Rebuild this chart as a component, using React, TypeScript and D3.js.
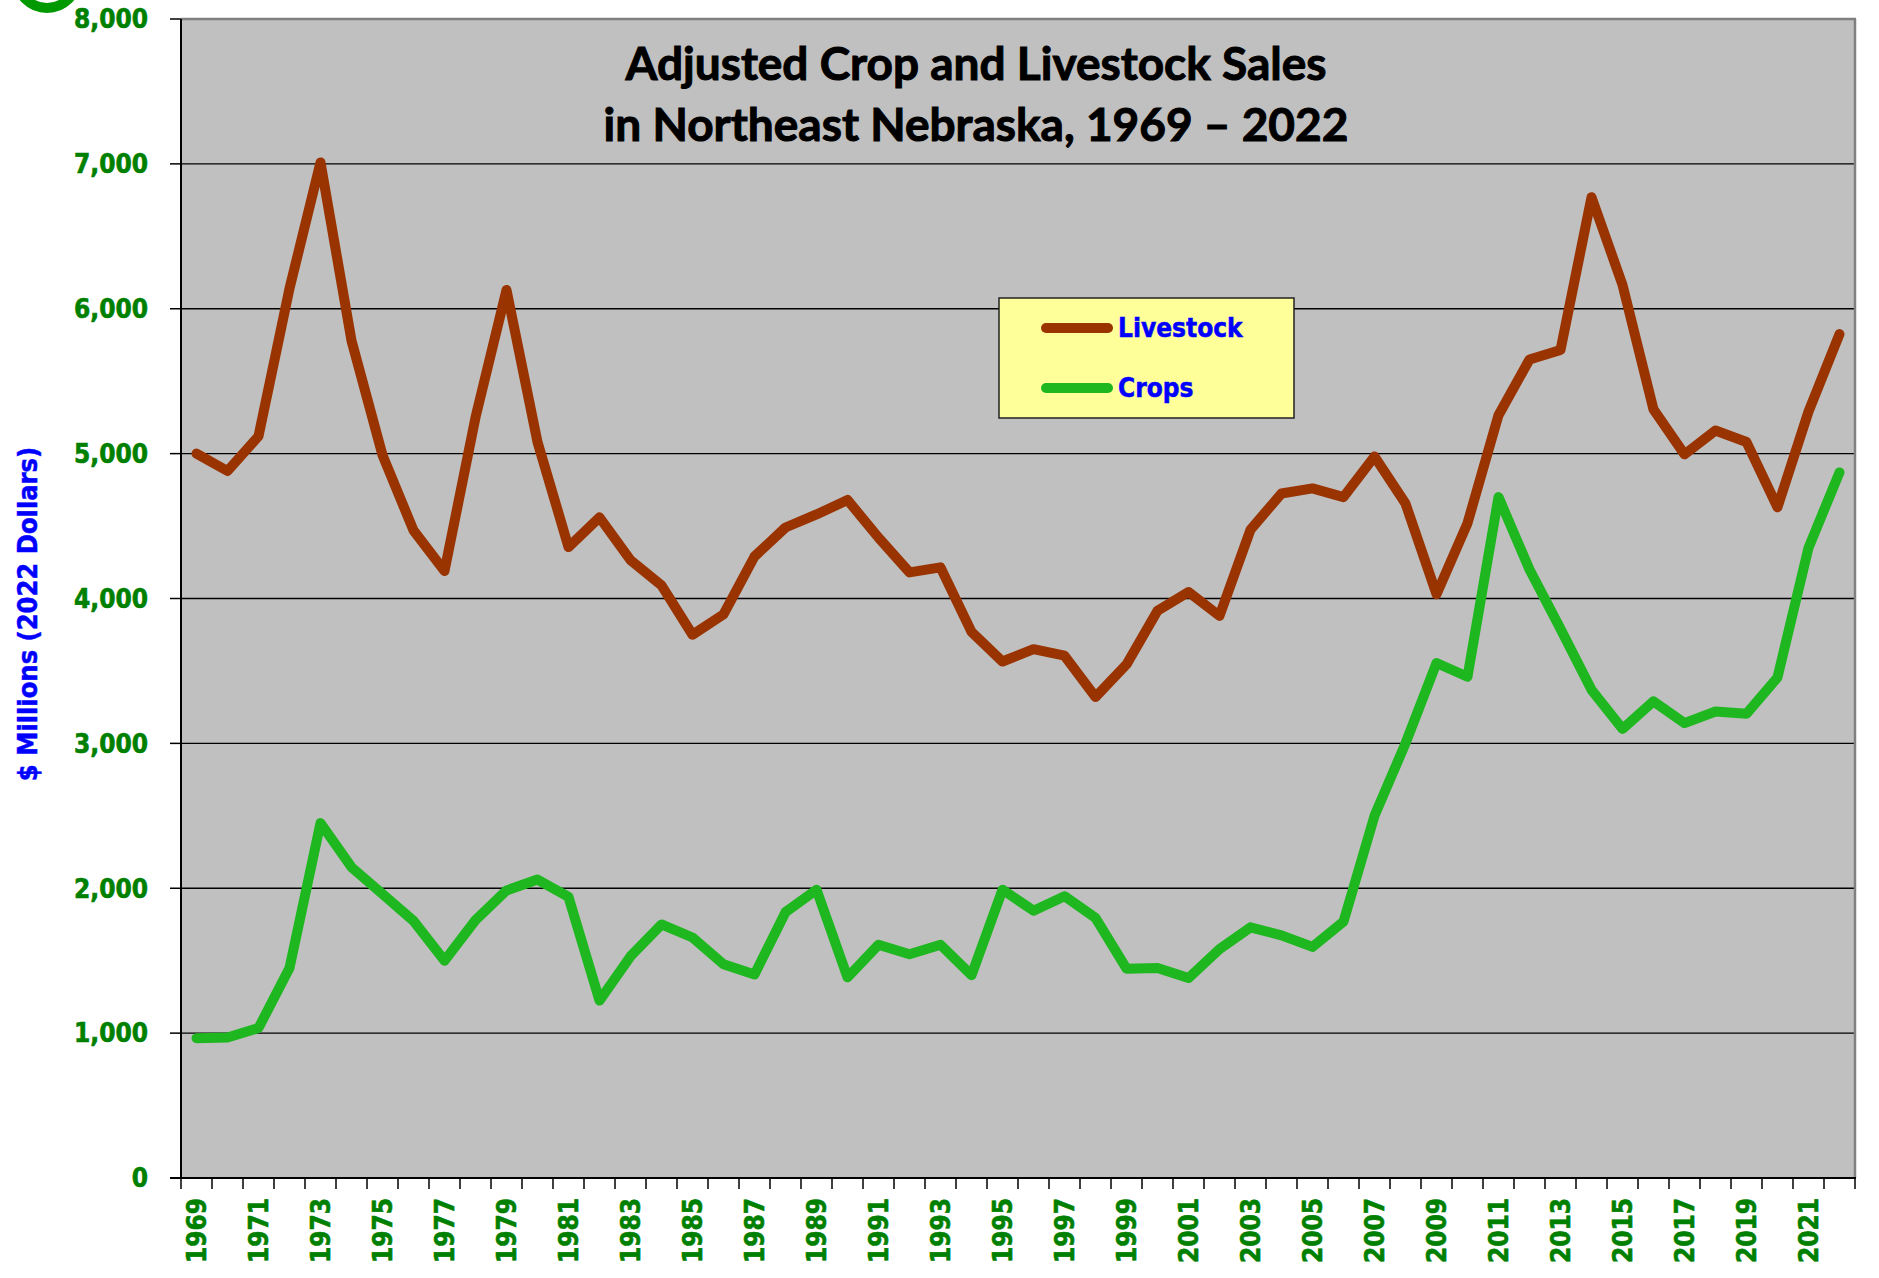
import React from "react";
import * as d3 from "d3";

const years = [
  1969, 1970, 1971, 1972, 1973, 1974, 1975, 1976, 1977, 1978,
  1979, 1980, 1981, 1982, 1983, 1984, 1985, 1986, 1987, 1988,
  1989, 1990, 1991, 1992, 1993, 1994, 1995, 1996, 1997, 1998,
  1999, 2000, 2001, 2002, 2003, 2004, 2005, 2006, 2007, 2008,
  2009, 2010, 2011, 2012, 2013, 2014, 2015, 2016, 2017, 2018,
  2019, 2020, 2021, 2022,
];

const livestock = [
  5000, 4880, 5120, 6140, 7010, 5780, 4990, 4470, 4190, 5250,
  6130, 5080, 4355, 4560, 4265, 4090, 3750, 3890, 4290, 4490,
  4580, 4680, 4420, 4180, 4215, 3770, 3565, 3650, 3605, 3320,
  3545, 3915, 4045, 3880, 4475, 4725, 4760, 4700, 4980, 4655,
  4030, 4520, 5265, 5650, 5715, 6770, 6165, 5305, 4995, 5160,
  5080, 4630, 5290, 5825,
];

const crops = [
  965, 970, 1035, 1450, 2450, 2145, 1960, 1775, 1500, 1780,
  1985, 2060, 1940, 1225, 1530, 1750, 1660, 1475, 1405, 1835,
  1990, 1385, 1610, 1545, 1610, 1400, 1990, 1845, 1945, 1795,
  1445, 1450, 1380, 1580, 1730, 1675, 1595, 1770, 2500, 3000,
  3555, 3460, 4700, 4200, 3790, 3370, 3100, 3290, 3140, 3220,
  3205, 3455, 4350, 4870,
];

const yTicks = [0, 1000, 2000, 3000, 4000, 5000, 6000, 7000, 8000];
const xLabelYears = [
  1969, 1971, 1973, 1975, 1977, 1979, 1981, 1983, 1985, 1987, 1989,
  1991, 1993, 1995, 1997, 1999, 2001, 2003, 2005, 2007, 2009, 2011,
  2013, 2015, 2017, 2019, 2021,
];

const titleLines = [
  "Adjusted Crop and Livestock Sales",
  "in Northeast Nebraska, 1969 \u2013 2022",
];
const yAxisTitle = "$ Millions (2022 Dollars)";
const seriesNames = ["Livestock", "Crops"];

const W = 1879;
const H = 1278;
const left = 181;
const right = 1855;
const top = 19;
const bottom = 1178;

const LIVESTOCK_COLOR = "#993300";
const CROPS_COLOR = "#1FB71F";
const AXIS_FONT = "'DejaVu Sans Condensed', 'DejaVu Sans', sans-serif";

export default function App() {
  const x = d3
    .scaleBand<number>()
    .domain(years)
    .range([left, right])
    .padding(0);
  const y = d3.scaleLinear().domain([0, 8000]).range([bottom, top]);
  const cx = (yr: number) => (x(yr) as number) + x.bandwidth() / 2;

  const line = d3
    .line<number>()
    .x((_, i) => cx(years[i]))
    .y((d) => y(d));

  const fmt = d3.format(",");

  const boundaries = years.map((yr) => x(yr) as number).concat([right]);

  const legendX = 999;
  const legendY = 298;
  const legendW = 295;
  const legendH = 120;

  const heavy = { paintOrder: "stroke" as const };

  return (
    <div style={{ position: "absolute", left: 0, top: 0 }}>
      <svg width={W} height={H} style={{ display: "block" }}>
        <rect x={0} y={0} width={W} height={H} fill="#ffffff" />
        {/* plot background */}
        <rect x={left} y={top} width={right - left} height={bottom - top} fill="#C0C0C0" />
        {/* gridlines */}
        {yTicks
          .filter((t) => t > 0 && t < 8000)
          .map((t) => (
            <line key={t} x1={left} x2={right} y1={y(t)} y2={y(t)} stroke="#000" strokeWidth={1.3} />
          ))}
        {/* frame top/right */}
        <line x1={left} x2={right + 1} y1={top} y2={top} stroke="#808080" strokeWidth={2.5} />
        <line x1={right} x2={right} y1={top} y2={bottom} stroke="#808080" strokeWidth={2.5} />

        {/* series */}
        <path d={line(livestock) || ""} fill="none" stroke={LIVESTOCK_COLOR} strokeWidth={10} strokeLinejoin="round" strokeLinecap="round" />
        <path d={line(crops) || ""} fill="none" stroke={CROPS_COLOR} strokeWidth={10} strokeLinejoin="round" strokeLinecap="round" />

        {/* axes */}
        <line x1={left} x2={left} y1={top} y2={bottom} stroke="#000" strokeWidth={2} />
        <line x1={170} x2={right + 1} y1={bottom} y2={bottom} stroke="#000" strokeWidth={2} />
        {yTicks.map((t) => (
          <g key={t}>
            <line x1={170} x2={left} y1={y(t)} y2={y(t)} stroke="#000" strokeWidth={1.5} />
            <text
              x={148}
              y={y(t)}
              dy="0.36em"
              textAnchor="end"
              fill="#008000"
              stroke="#008000"
              strokeWidth={0.6}
              style={heavy}
              fontFamily={AXIS_FONT}
              fontWeight="bold"
              fontSize={26}
            >
              {fmt(t)}
            </text>
          </g>
        ))}
        {boundaries.map((bx, i) => (
          <line key={i} x1={bx} x2={bx} y1={bottom} y2={bottom + 11} stroke="#000" strokeWidth={1.5} />
        ))}
        {xLabelYears.map((yr) => (
          <text
            key={yr}
            transform={`translate(${cx(yr)},1198) rotate(-90)`}
            dy="0.36em"
            textAnchor="end"
            fill="#008000"
            stroke="#008000"
            strokeWidth={0.6}
            style={heavy}
            fontFamily={AXIS_FONT}
            fontWeight="bold"
            fontSize={26}
          >
            {yr}
          </text>
        ))}

        {/* y axis title */}
        <text
          transform={`translate(27,614) rotate(-90)`}
          dy="0.36em"
          textAnchor="middle"
          fill="#0000FF"
          stroke="#0000FF"
          strokeWidth={0.5}
          style={heavy}
          fontFamily={AXIS_FONT}
          fontWeight="bold"
          fontSize={27}
        >
          {yAxisTitle}
        </text>

        {/* title */}
        {titleLines.map((t, i) => (
          <text
            key={i}
            x={976}
            y={80 + i * 61}
            textAnchor="middle"
            fill="#000"
            stroke="#000"
            strokeWidth={1}
            style={heavy}
            fontFamily="Lato, 'Open Sans', sans-serif"
            fontWeight="bold"
            fontSize={46}
          >
            {t}
          </text>
        ))}

        {/* legend */}
        <rect x={legendX} y={legendY} width={legendW} height={legendH} fill="#FFFF99" stroke="#222" strokeWidth={1.5} />
        {seriesNames.map((name, i) => {
          const ly = legendY + 30 + i * 60;
          return (
            <g key={name}>
              <line
                x1={legendX + 47}
                x2={legendX + 109}
                y1={ly}
                y2={ly}
                stroke={i === 0 ? LIVESTOCK_COLOR : CROPS_COLOR}
                strokeWidth={10}
                strokeLinecap="round"
              />
              <text
                x={legendX + 119}
                y={ly}
                dy="0.33em"
                fill="#0000FF"
                stroke="#0000FF"
                strokeWidth={0.5}
                style={heavy}
                fontFamily={AXIS_FONT}
                fontWeight="bold"
                fontSize={26}
              >
                {name}
              </text>
            </g>
          );
        })}

        {/* decorative green circle at corner */}
        <circle cx={47} cy={-22} r={30} fill="none" stroke="#009900" strokeWidth={10} />
      </svg>
    </div>
  );
}
